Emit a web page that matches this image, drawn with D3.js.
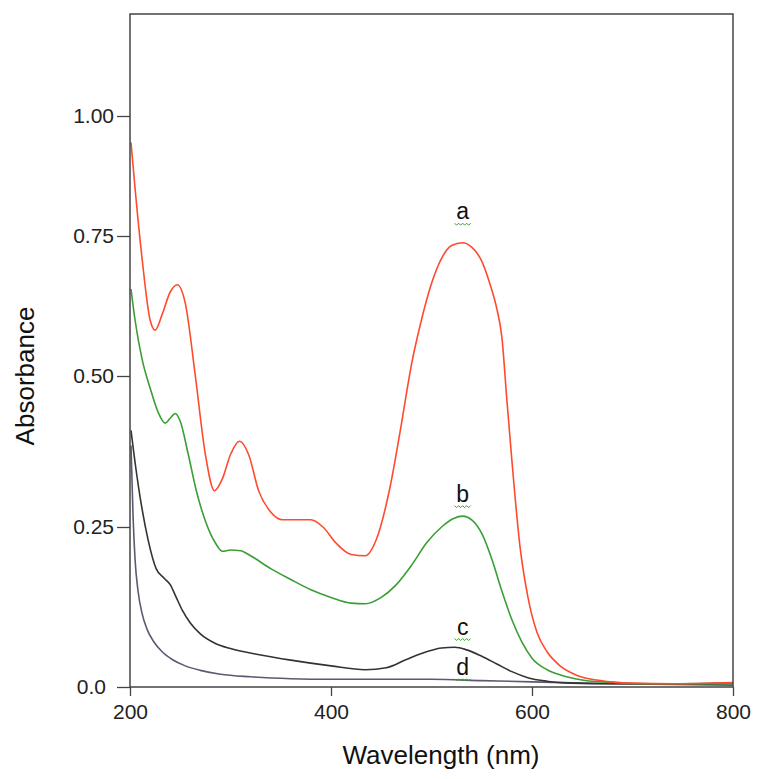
<!DOCTYPE html>
<html>
<head lang="en">
    <meta charset="UTF-8">
    <title></title>
    <script src="https://cdn.jsdelivr.net/npm/d3@7/dist/d3.min.js" charset="UTF-8"></script>
    <style>
        body{margin:0;background:#fff;}
        text{font-family:"Liberation Sans",Arial,sans-serif;}
    </style>
</head>
<body>
<script>
    // ticks
    var xTicks=[200,400,600,800];
    var yTicks=[0,0.25,0.5,0.75,1.0];
    var yTickLabels=['0.0','0.25','0.50','0.75','1.00'];

    // spectrum a (red)
    var waveA=[201,205,212,220,225,232,240,247,255,265,275,284,292,300,309,318,328,340,352,365,380,392,405,420,434,445,458,470,480,490,500,510,520,531,540,550,558,565,570,575,580,588,596,605,615,628,645,668,700,740,800];
    var absA=[0.945,0.85,0.71,0.60,0.582,0.61,0.65,0.663,0.63,0.50,0.37,0.31,0.33,0.37,0.392,0.37,0.31,0.275,0.262,0.262,0.262,0.25,0.225,0.207,0.205,0.23,0.31,0.42,0.52,0.60,0.665,0.71,0.733,0.738,0.73,0.705,0.665,0.62,0.57,0.46,0.36,0.22,0.14,0.085,0.055,0.033,0.018,0.01,0.006,0.005,0.007];
    // spectrum b (green)
    var waveB=[201,205,212,220,228,235,240,245,250,258,266,275,285,292,300,310,320,340,360,380,400,420,434,450,465,480,495,510,522,531,540,550,560,570,580,590,600,615,630,650,680,720,800];
    var absB=[0.655,0.6,0.53,0.48,0.44,0.422,0.43,0.438,0.425,0.37,0.31,0.26,0.225,0.212,0.214,0.213,0.205,0.185,0.168,0.152,0.14,0.131,0.13,0.14,0.16,0.19,0.225,0.25,0.264,0.268,0.262,0.24,0.2,0.15,0.105,0.07,0.045,0.027,0.018,0.011,0.007,0.005,0.005];
    // spectrum c (black)
    var waveC=[201,204,210,218,226,234,240,246,252,260,270,285,300,330,360,400,434,455,475,495,510,523,535,550,565,580,595,615,640,680,740,800];
    var absC=[0.41,0.37,0.3,0.23,0.185,0.17,0.16,0.14,0.12,0.1,0.083,0.068,0.06,0.05,0.042,0.033,0.027,0.03,0.043,0.055,0.061,0.062,0.058,0.048,0.036,0.024,0.015,0.009,0.006,0.005,0.005,0.006];
    // spectrum d (purple grey)
    var waveD=[201,203,205,208,212,217,224,232,242,255,270,290,320,360,400,450,500,550,600,680,800];
    var absD=[0.385,0.27,0.2,0.15,0.115,0.09,0.07,0.055,0.043,0.033,0.026,0.02,0.016,0.013,0.012,0.012,0.012,0.01,0.008,0.005,0.003];

    var seriesNames=['a','b','c','d'];
    var seriesColors=['#ff4a2e','#3a9e35','#333333','#5e5872'];
    var labelWave=[531,531,531,531];
    var labelAbs=[0.785,0.292,0.082,0.019];

    var _svg=d3.select("body")
            .append("svg")
            .attr("width",759)
            .attr("height",779);

    var pLeft=130,pRight=733,pTop=14,pBottom=687;

    var _xscale=d3.scaleLinear()
            .domain([200,800])
            .range([pLeft,pRight]);
    // the y axis of the original is not evenly spaced
    var _yscale=d3.scaleLinear()
            .domain([0,0.25,0.5,0.75,1.0,1.25])
            .range([pBottom,527,376,236,116,pTop]);

    var _gyaxis=_svg.append("g")
            .attr("transform","translate("+pLeft+",0)")
            .call(d3.axisLeft(_yscale)
                .tickValues(yTicks)
                .tickFormat(function(d,i){return yTickLabels[i];})
                .tickSize(13)
                .tickSizeOuter(0));
    _gyaxis.select("path").remove();
    _gyaxis.selectAll("line").attr("stroke","#444").attr("stroke-width",1.3);
    _gyaxis.selectAll("text")
            .attr("fill","#222")
            .style("font-size","21px")
            .attr("x",function(d){return d===0?-24:-16;});

    var _gxaxis=_svg.append("g")
            .attr("transform","translate(0,"+pBottom+")")
            .call(d3.axisBottom(_xscale)
                .tickValues(xTicks)
                .tickSize(9)
                .tickSizeOuter(0));
    _gxaxis.select("path").remove();
    _gxaxis.selectAll("line").attr("stroke","#444").attr("stroke-width",1.3);
    _gxaxis.selectAll("text")
            .attr("fill","#222")
            .style("font-size","21px")
            .attr("y",17);

    var _line=d3.line()
            .x(function(d){return _xscale(d[0]);})
            .y(function(d){return _yscale(d[1]);})
            .curve(d3.curveMonotoneX);

    var allWaves=[waveA,waveB,waveC,waveD];
    var allAbs=[absA,absB,absC,absD];
    // draw d first so a is on top
    for(var k=3;k>=0;k--){
        var pts=allWaves[k].map(function(w,i){return [w,allAbs[k][i]];});
        _svg.append("path")
                .datum(pts)
                .attr("d",_line)
                .attr("fill","none")
                .attr("stroke",seriesColors[k])
                .attr("stroke-width",1.6);
    }

    // frame
    _svg.append("rect")
            .attr("x",pLeft)
            .attr("y",pTop)
            .attr("width",pRight-pLeft)
            .attr("height",pBottom-pTop)
            .attr("fill","none")
            .attr("stroke","#444")
            .attr("stroke-width",1.5);

    // curve labels with the wavy underline
    var _glabels=_svg.append("g");
    seriesNames.forEach(function(n,i){
        var cx=_xscale(labelWave[i]),cy=_yscale(labelAbs[i]);
        _glabels.append("text")
                .attr("x",cx)
                .attr("y",cy)
                .attr("text-anchor","middle")
                .attr("fill","#111")
                .style("font-size","23px")
                .text(n);
        var zz=[];
        for(var j=0;j<=8;j++){zz.push([cx-8+j*2,cy+4+(j%2?2:0)]);}
        _glabels.append("path")
                .attr("d",d3.line()(zz))
                .attr("fill","none")
                .attr("stroke","#3a9e35")
                .attr("stroke-width",1);
    });

    _svg.append("text")
            .attr("x",441)
            .attr("y",764)
            .attr("text-anchor","middle")
            .attr("fill","#111")
            .style("font-size","26px")
            .text("Wavelength (nm)");
    _svg.append("text")
            .attr("transform","translate(34,"+376+") rotate(-90)")
            .attr("text-anchor","middle")
            .attr("fill","#111")
            .style("font-size","26px")
            .text("Absorbance");
</script>

</body>
</html>
